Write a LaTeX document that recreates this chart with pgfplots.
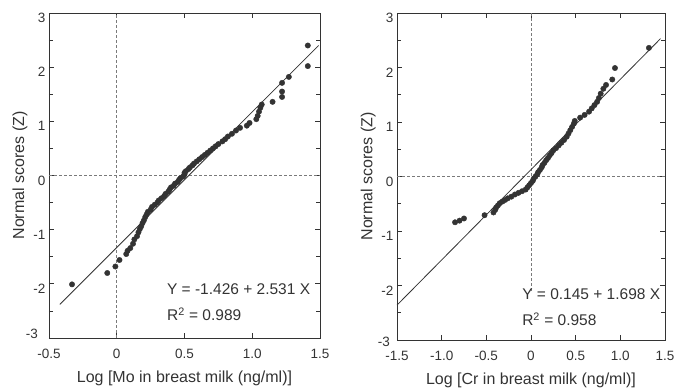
\documentclass[border=0pt]{standalone}
\usepackage{pgfplots}
\pgfplotsset{compat=1.18}
\usepackage{fontspec}
\setmainfont{Liberation Sans}
\definecolor{ink}{HTML}{333333}
\definecolor{dashc}{HTML}{7A7A7A}
\pgfplotsset{qq/.style={
  scale only axis, anchor=north west, clip=false,
  ymin=-3, ymax=3,
  ytick={-3,-2,-1,0,1,2,3}, yticklabels={,-2,-1,0,1,2,3},
  minor ytick={-2.5,-1.5,-0.5,0.5,1.5,2.5},
  tick align=inside, major tick length=5pt, minor tick length=4pt,
  axis line style={ink, line width=0.8pt},
  every tick/.style={ink, line width=0.7pt},
  tick label style={font=\fontsize{13.5}{15}\selectfont, text=ink},
  xticklabel style={yshift=-8pt},
  yticklabel style={yshift=-5pt},
  label style={font=\fontsize{16}{18}\selectfont, text=ink},
  xlabel style={at={(axis description cs:0.5,-0.123)}, anchor=center},
  ylabel style={at={(axis description cs:-0.107,0.5)}, anchor=center},
  ylabel={Normal scores (Z)},
}}
\begin{document}
\begin{tikzpicture}
\path[use as bounding box] (0,0) rectangle (678pt,-388pt);
\begin{axis}[qq, at={(49pt,-13pt)}, width=271pt, height=325pt,
  xmin=-0.5, xmax=1.5, xtick={-0.5,0,0.5,1,1.5}, xticklabels={-0.5,0,0.5,1.0,1.5},
  xlabel={Log [Mo in breast milk (ng/ml)]}]
\addplot[dashc, line width=0.6pt, dash pattern=on 3pt off 2pt] coordinates {(0,-3) (0,3)};
\addplot[dashc, line width=0.6pt, dash pattern=on 3pt off 2pt] coordinates {(-0.5,0) (1.5,0)};
\addplot[ink, line width=0.8pt] coordinates {(-0.42,-2.38) (1.49,2.40)};
\addplot[only marks, mark=*, mark size=2.7pt, ink] coordinates {
(1.41,2.40) (1.41,2.02) (1.27,1.82) (1.22,1.71) (1.22,1.55) (1.22,1.45) (1.15,1.36)
(1.07,1.31) (1.06,1.25) (1.05,1.18) (1.04,1.10) (1.03,1.04) (0.98,0.97) (0.96,0.92)
(0.91,0.88) (0.88,0.83) (0.85,0.77) (0.82,0.72) (0.80,0.67) (0.78,0.63) (0.75,0.58)
(0.73,0.54) (0.71,0.50) (0.69,0.46) (0.67,0.42) (0.65,0.38) (0.63,0.34) (0.61,0.30)
(0.59,0.26) (0.57,0.22) (0.56,0.19) (0.54,0.15) (0.53,0.12) (0.51,0.08) (0.50,0.05)
(0.50,0.02) (0.49,-0.02) (0.47,-0.05) (0.46,-0.08) (0.45,-0.12) (0.43,-0.15) (0.42,-0.19)
(0.40,-0.22) (0.39,-0.26) (0.38,-0.30) (0.36,-0.34) (0.35,-0.38) (0.33,-0.42) (0.31,-0.46)
(0.30,-0.50) (0.28,-0.54) (0.26,-0.58) (0.25,-0.63) (0.23,-0.67) (0.22,-0.72) (0.21,-0.77)
(0.20,-0.83) (0.19,-0.88) (0.18,-0.94) (0.17,-0.99) (0.16,-1.05) (0.15,-1.12) (0.13,-1.18)
(0.12,-1.26) (0.10,-1.34) (0.08,-1.39) (0.07,-1.45) (0.02,-1.56) (-0.01,-1.68) (-0.07,-1.80)
(-0.33,-2.01)};
\node[anchor=west, inner sep=0pt, font=\fontsize{15.5}{17}\selectfont, text=ink] at (axis cs:0.37,-2.09) {Y = -1.426 + 2.531 X};
\node[anchor=west, inner sep=0pt, font=\fontsize{15.5}{17}\selectfont, text=ink] at (axis cs:0.37,-2.56) {R\textsuperscript{2} = 0.989};
\node[anchor=east, inner sep=0pt, font=\fontsize{13.5}{15}\selectfont, text=ink, xshift=-11pt, yshift=4pt] at (rel axis cs:0,0) {-3};
\end{axis}
\begin{axis}[qq, at={(397pt,-13pt)}, width=268pt, height=327pt,
  xmin=-1.5, xmax=1.5, xtick={-1.5,-1,-0.5,0,0.5,1,1.5}, xticklabels={-1.5,-1.0,-0.5,0,0.5,1.0,1.5},
  xlabel={Log [Cr in breast milk (ng/ml)]}]
\addplot[dashc, line width=0.6pt, dash pattern=on 3pt off 2pt] coordinates {(0,-2.1) (0,3)};
\addplot[dashc, line width=0.6pt, dash pattern=on 3pt off 2pt] coordinates {(-1.5,0) (1.5,0)};
\addplot[ink, line width=0.8pt] coordinates {(-1.5,-2.36) (1.45,2.53)};
\addplot[only marks, mark=*, mark size=2.7pt, ink] coordinates {
(-0.85,-0.84) (-0.80,-0.81) (-0.75,-0.77) (-0.52,-0.71) (-0.42,-0.66) (-0.40,-0.61)
(-0.39,-0.57) (-0.37,-0.53) (-0.35,-0.49) (-0.32,-0.46) (-0.29,-0.43) (-0.26,-0.40)
(-0.22,-0.37) (-0.18,-0.33) (-0.14,-0.30) (-0.10,-0.27) (-0.06,-0.24) (-0.04,-0.20)
(-0.02,-0.16) (0.00,-0.12) (0.02,-0.08) (0.03,-0.04) (0.05,0.00) (0.07,0.04) (0.08,0.08)
(0.10,0.12) (0.12,0.17) (0.13,0.21) (0.15,0.25) (0.17,0.30) (0.19,0.34) (0.21,0.39)
(0.23,0.43) (0.25,0.48) (0.28,0.52) (0.31,0.57) (0.34,0.62) (0.37,0.67) (0.40,0.73)
(0.42,0.79) (0.44,0.85) (0.46,0.91) (0.48,0.97) (0.49,1.02) (0.55,1.08) (0.60,1.13)
(0.65,1.19) (0.68,1.25) (0.71,1.31) (0.74,1.37) (0.76,1.44) (0.78,1.52) (0.81,1.61)
(0.84,1.68) (0.91,1.78) (0.94,1.99) (1.32,2.36)};
\node[anchor=west, inner sep=0pt, font=\fontsize{15.5}{17}\selectfont, text=ink] at (axis cs:-0.10,-2.15) {Y = 0.145 + 1.698 X};
\node[anchor=west, inner sep=0pt, font=\fontsize{15.5}{17}\selectfont, text=ink] at (axis cs:-0.10,-2.62) {R\textsuperscript{2} = 0.958};
\node[anchor=east, inner sep=0pt, font=\fontsize{13.5}{15}\selectfont, text=ink, xshift=-7pt, yshift=-2pt] at (rel axis cs:0,0) {-3};
\end{axis}
\end{tikzpicture}
\end{document}
